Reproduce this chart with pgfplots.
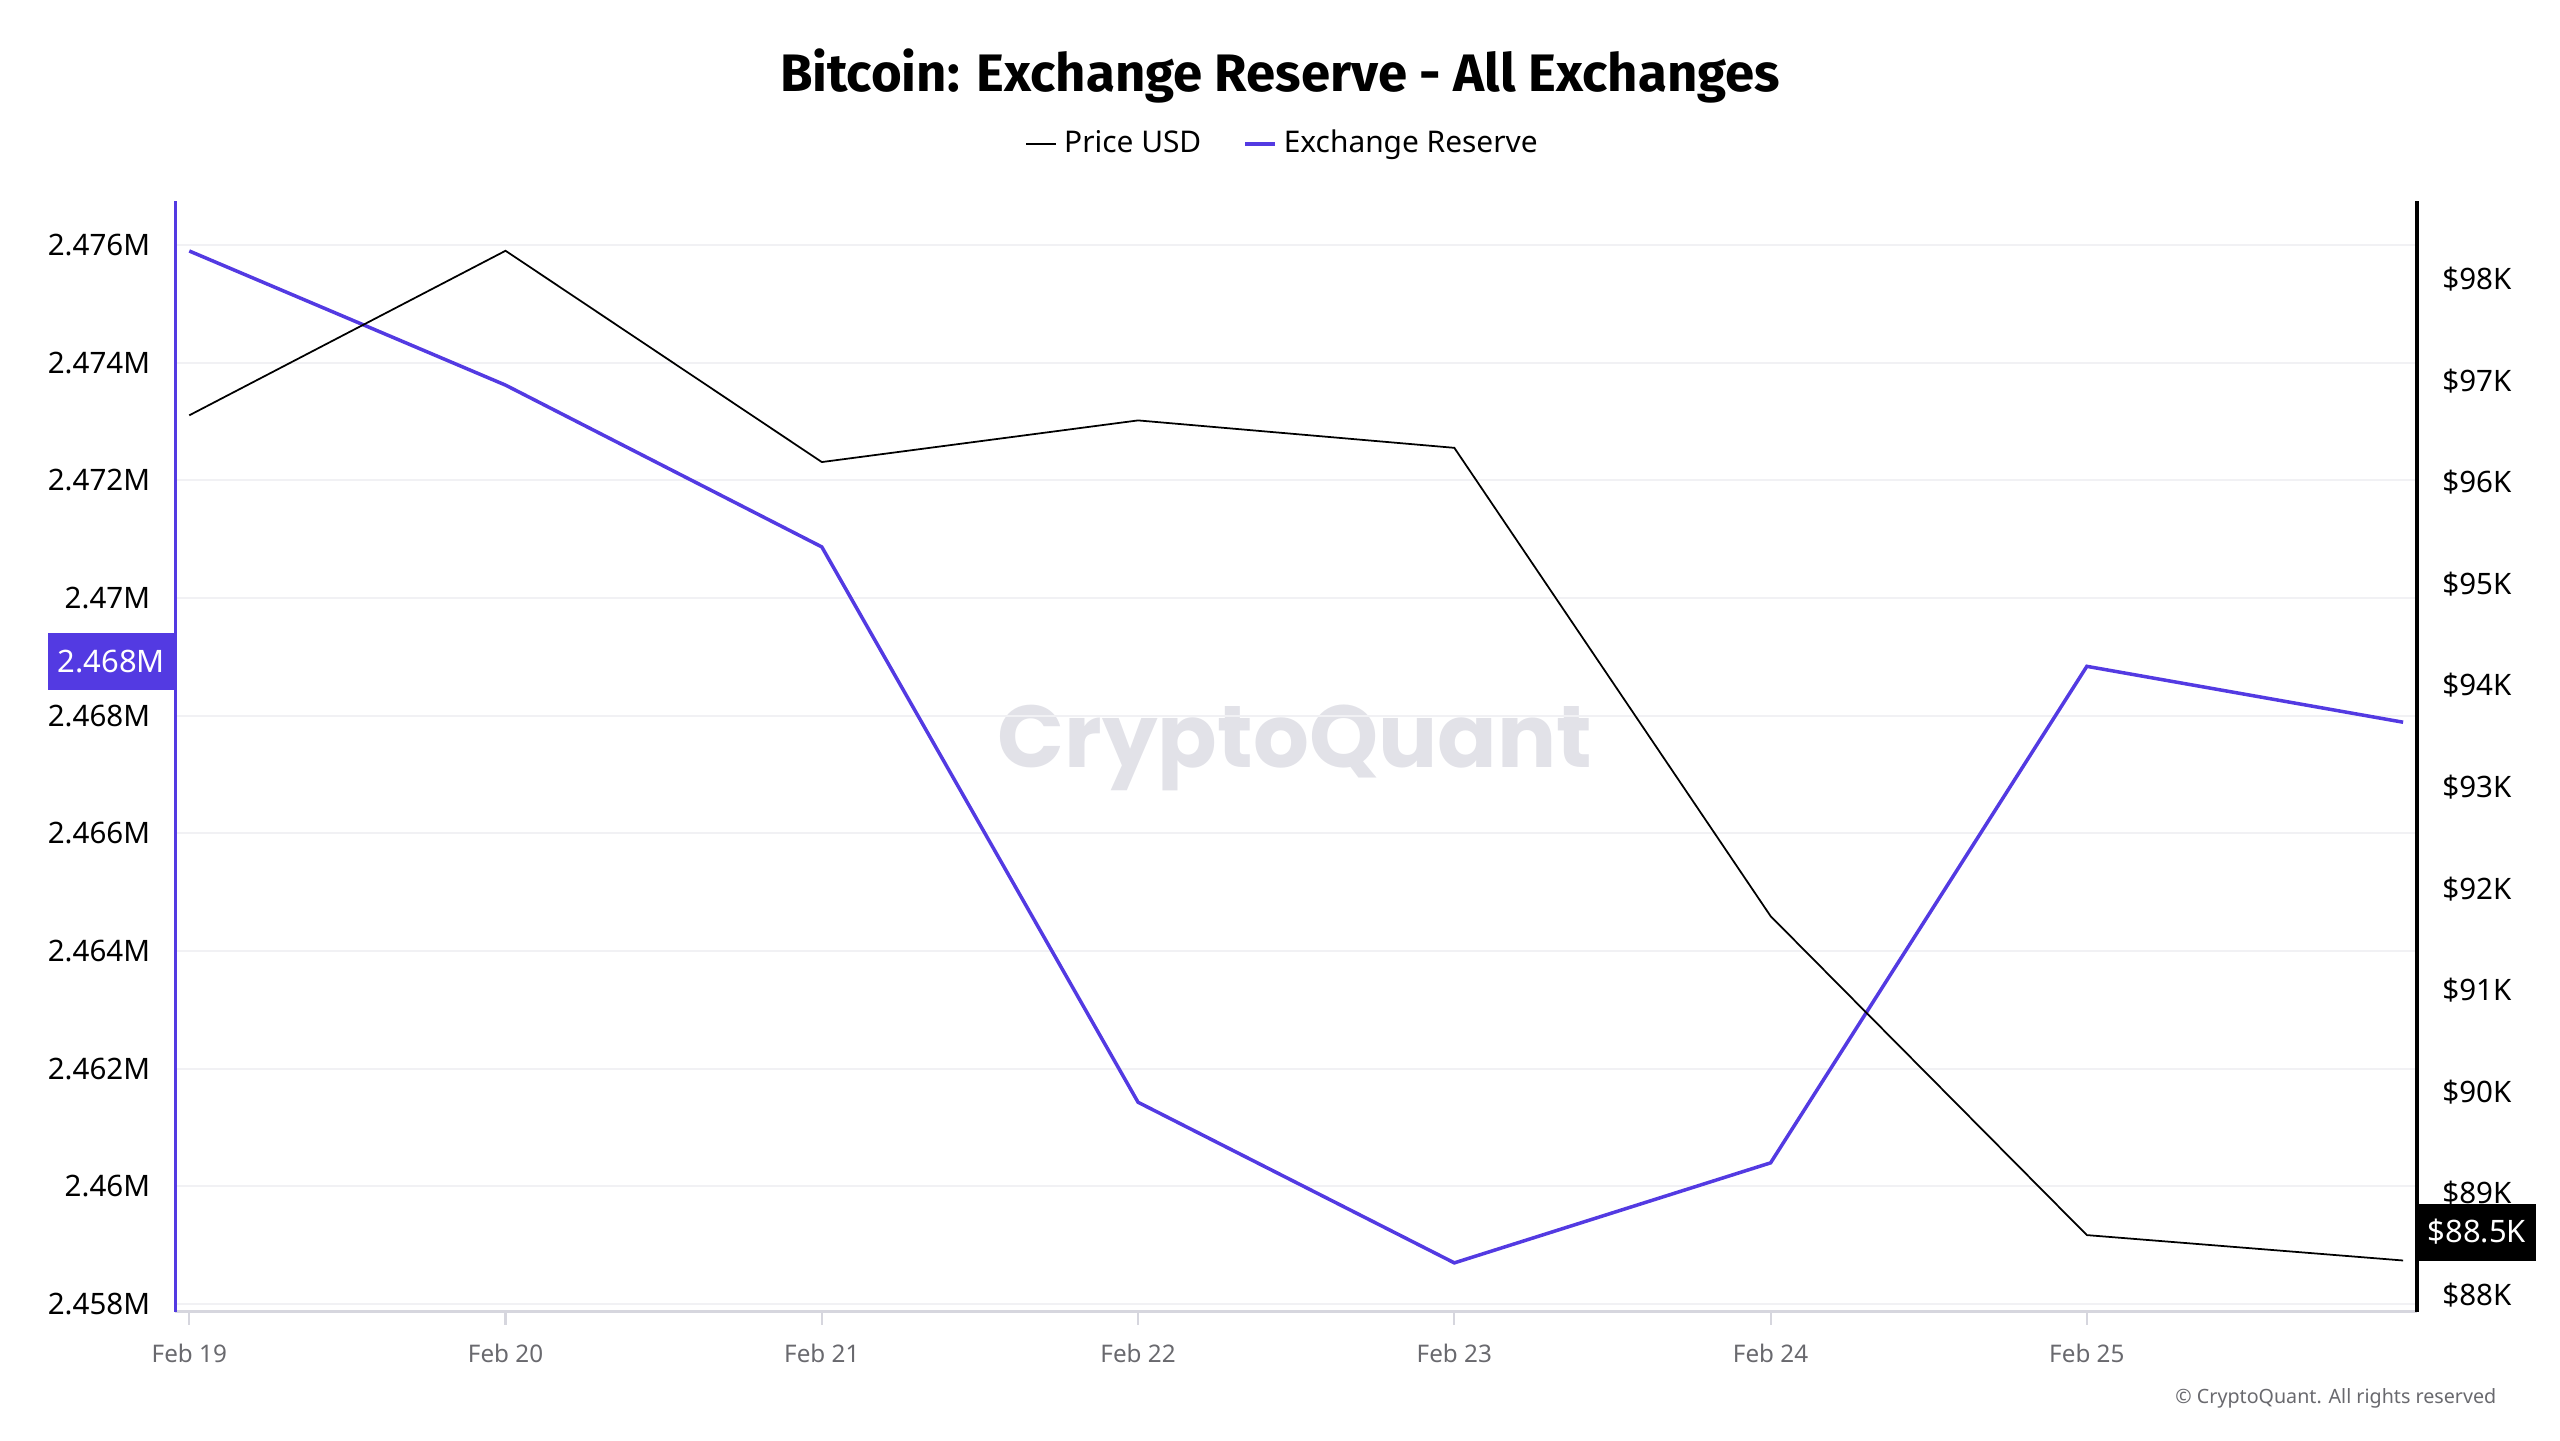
\documentclass[border=0pt]{standalone}
\usepackage{pgfplots}
\pgfplotsset{compat=1.18}
\usepackage{pgfplotstable}
\usepackage{fontspec}
\setmainfont{Noto Sans}
\newfontfamily\wmfont{Poppins}
\newfontfamily\titlefont{Fira Sans}

\definecolor{reserve}{RGB}{83,58,226}
\definecolor{gridc}{RGB}{241,241,244}
\definecolor{xaxisc}{RGB}{214,214,222}
\definecolor{xlab}{RGB}{105,105,110}
\definecolor{wm}{RGB}{226,226,232}

% reserve in BTC, price in USD, one row per day (Feb 19 .. Feb 26)
\pgfplotstableread{
x reserve price
0 2475900 96660
1 2473620 98280
2 2470870 96200
3 2461430 96610
4 2458700 96340
5 2460400 91730
6 2468840 88590
7 2467890 88340
}\datatab

\begin{document}
\begin{tikzpicture}
\useasboundingbox (0,0) rectangle (25.6,14.4);
\node[font=\wmfont\bfseries\fontsize{25}{30}\selectfont, text=wm] at (12.95,6.92) {CryptoQuant};
\node[font=\titlefont\bfseries\fontsize{15}{18}\selectfont] at (12.8,13.64) {Bitcoin: Exchange Reserve - All Exchanges};
\node[anchor=east, inner sep=0pt, font=\fontsize{5.6}{7}\selectfont, text=xlab] at (24.97,0.42) {© CryptoQuant. All rights reserved};

\begin{axis}[
  at={(1.755cm,1.283cm)}, anchor=south west,
  scale only axis, width=22.415cm, height=11.107cm,
  clip=false,
  xmin=-0.0436, xmax=7.044,
  ymin=2457870, ymax=2476750,
  scaled y ticks=false,
  axis x line*=bottom, axis y line*=left,
  x axis line style={xaxisc, line width=0.8pt, -},
  y axis line style={reserve, line width=1.1pt, -},
  tick align=outside, major tick length=0.13cm,
  xtick={0,...,6},
  xticklabels={Feb 19,Feb 20,Feb 21,Feb 22,Feb 23,Feb 24,Feb 25},
  x tick style={xaxisc, line width=0.6pt},
  x tick label style={font=\fontsize{6.9}{8}\selectfont, text=xlab, yshift=-0.07cm},
  ytick={2458000,2460000,...,2476000},
  yticklabels={2.458M,2.46M,2.462M,2.464M,2.466M,2.468M,2.47M,2.472M,2.474M,2.476M},
  y tick style={draw=none},
  y tick label style={font=\fontsize{8.4}{10}\selectfont},
  ymajorgrids, grid style={gridc, line width=0.6pt},
  legend style={at={(0.495,1.0513)}, anchor=center, draw=none, fill=none,
    font=\fontsize{8.5}{10}\selectfont, legend columns=2,
    /tikz/every even column/.append style={column sep=0.35cm}},
  legend image code/.code={\draw[#1] (0cm,0cm) -- (0.3cm,0cm);},
]
\addlegendimage{black, line width=0.5pt}
\addlegendentry{Price USD}
\addplot[reserve, line width=1pt] table[x=x, y=reserve] {\datatab};
\addlegendentry{Exchange Reserve}
\node[fill=reserve, text=white, anchor=east, minimum height=0.57cm, inner xsep=0.1cm,
  font=\fontsize{8.8}{10}\selectfont] at (axis cs:-0.0436,2468930) {2.468M};
\end{axis}

\begin{axis}[
  at={(1.755cm,1.283cm)}, anchor=south west,
  scale only axis, width=22.415cm, height=11.107cm,
  clip=false,
  xmin=-0.0436, xmax=7.044,
  ymin=87836, ymax=98770,
  scaled y ticks=false,
  axis x line=none, axis y line*=right,
  y axis line style={black, line width=1.1pt, -},
  tick align=outside, major tick length=0.13cm,
  ytick={88000,89000,...,98000},
  yticklabels={\$88K,\$89K,\$90K,\$91K,\$92K,\$93K,\$94K,\$95K,\$96K,\$97K,\$98K},
  y tick style={draw=none},
  y tick label style={font=\fontsize{8.4}{10}\selectfont},
]
\addplot[black, line width=0.5pt] table[x=x, y=price] {\datatab};
\node[fill=black, text=white, anchor=west, minimum height=0.57cm, inner xsep=0.1cm,
  font=\fontsize{8.8}{10}\selectfont] at (axis cs:7.044,88620) {\$88.5K};
\end{axis}
\end{tikzpicture}
\end{document}
